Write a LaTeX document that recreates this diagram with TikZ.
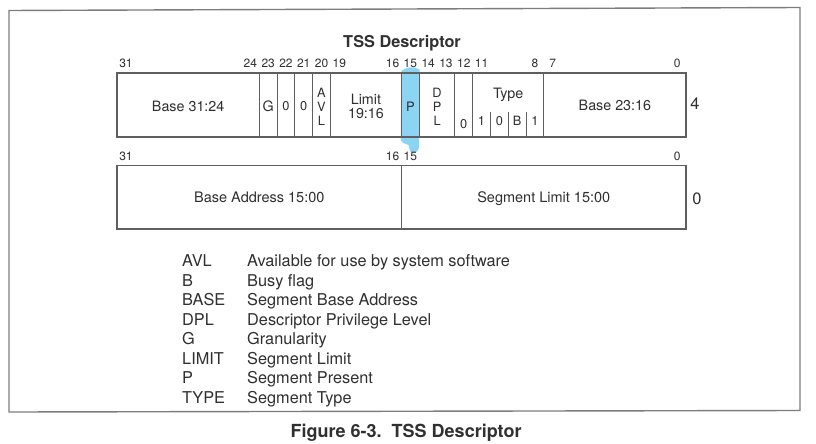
\documentclass[tikz,border=0pt]{standalone}
\usepackage{fontspec}
\setmainfont{TeX Gyre Heros}
\definecolor{txt}{RGB}{48,48,48}
\definecolor{rulegray}{RGB}{95,95,95}
\definecolor{framegray}{RGB}{125,125,125}
\definecolor{marker}{RGB}{110,202,240}
% x position of the boundary k bits from the right edge of a 32-bit word
\newcommand\bx[1]{686-(#1)*17.78}
\begin{document}
\begin{tikzpicture}[x=1pt,y=-1pt,
  lbl/.style={inner sep=0pt,text=txt,font=\fontsize{#1}{#1}\selectfont,text height=0.72*#1 pt,text depth=0pt},
  lbl/.default=14.3,
  bitno/.style={lbl=12},
  small/.style={lbl=12.8},
  legend/.style={lbl=16.3,anchor=west},
  word/.style={draw=rulegray,line width=1.2pt},
  cell/.style={draw=rulegray,line width=0.9pt},
]
\useasboundingbox (0,0) rectangle (816,444);
\fill[white] (0,0) rectangle (816,444);

% marker stroke over the P bit, laid down under the ink
\fill[marker,opacity=0.8]
  (401.3,71) .. controls (405,67) and (415,66) .. (419.6,69.5)
  -- (419.2,146) .. controls (418.5,153) and (413,156) .. (410,151)
  -- (408.5,145) .. controls (406,143) and (402,144) .. (400.8,140) -- cycle;

% outer frame
\draw[framegray,line width=1.4pt] (9,10.5) -- (800,7.5) -- (800,410.5) -- (9,412) -- cycle;

% title
\node[lbl=16.3,font=\fontsize{16.3}{16.3}\selectfont\bfseries] (title) at (402,42) {TSS Descriptor};

% ---- word at offset 4 ----
\foreach \b in {31,24,23,22,21,20,19,16,15,14,13,12,11,8,7,0}
  \node[bitno] (hi\b) at ({\bx{\b+0.5}},63) {\b};

\draw[word] ({\bx{32}},73) rectangle ({\bx{0}},137);
\foreach \k in {24,23,22,21,20,16,15,13,12,8}
  \draw[cell] ({\bx{\k}},73) -- ({\bx{\k}},137);
\foreach \k in {11,10,9}
  \draw[cell] ({\bx{\k}},112) -- ({\bx{\k}},137);

\node[lbl] (base3124) at ({\bx{28}},106) {Base 31:24};
\node[lbl] (g) at ({\bx{23.5}},106) {G};
\node[small] (z22) at ({\bx{22.5}},106) {0};
\node[small] (z21) at ({\bx{21.5}},106) {0};
\node[small] (avlA) at ({\bx{20.5}},93) {A};
\node[small] (avlV) at ({\bx{20.5}},107) {V};
\node[small] (avlL) at ({\bx{20.5}},121) {L};
\node[lbl] (limA) at ({\bx{18}},99.5) {Limit};
\node[lbl] (limB) at ({\bx{18}},113.5) {19:16};
\node[lbl=13] (p) at ({\bx{15.5}},106.5) {P};
\node[small] (dplD) at ({\bx{14}},93) {D};
\node[small] (dplP) at ({\bx{14}},107) {P};
\node[small] (dplL) at ({\bx{14}},121) {L};
\node[small] (z12) at ({\bx{12.5}},124) {0};
\node[lbl] (type) at ({\bx{10}},93.5) {Type};
\node[small] (t11) at ({\bx{11.5}},121) {1};
\node[small] (t10) at ({\bx{10.5}},121) {0};
\node[small] (t9) at ({\bx{9.5}},121) {B};
\node[small] (t8) at ({\bx{8.5}},121) {1};
\node[lbl] (base2316) at ({\bx{4}},105) {Base 23:16};
\node[lbl=16.5] (off4) at (695,103.5) {4};

% ---- word at offset 0 ----
\foreach \b in {31,16,15,0}
  \node[bitno] (lo\b) at ({\bx{\b+0.5}},156) {\b};
\draw[word] ({\bx{32}},165.5) rectangle ({\bx{0}},229);
\draw[cell] ({\bx{16}},165.5) -- ({\bx{16}},229);
\node[lbl=14.5] (baseaddr) at ({\bx{24}},197) {Base Address 15:00};
\node[lbl=14.5] (seglim) at ({\bx{8}},197) {Segment Limit 15:00};
\node[lbl=16.5] (off0) at (697,199) {0};

% legend
\foreach \ab/\desc [count=\i from 0] in {
    AVL/Available for use by system software,
    B/Busy flag,
    BASE/Segment Base Address,
    DPL/Descriptor Privilege Level,
    G/Granularity,
    LIMIT/Segment Limit,
    P/Segment Present,
    TYPE/Segment Type} {
  \node[legend] (ab\i) at (182,{261+\i*19.45}) {\ab};
  \node[legend] (de\i) at (247,{261+\i*19.45}) {\desc};
}

% caption
\node[lbl=18,font=\fontsize{18}{18}\selectfont\bfseries] (caption) at (406,431) {Figure 6-3.\ \ TSS Descriptor};
\end{tikzpicture}
\end{document}
